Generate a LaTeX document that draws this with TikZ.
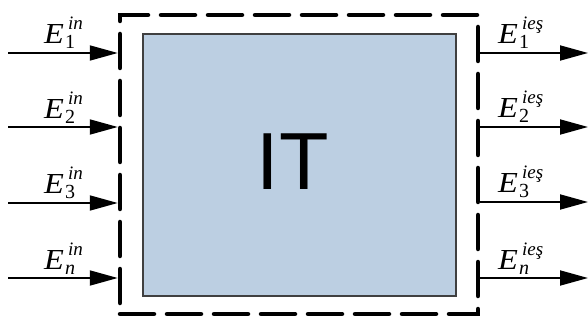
\documentclass[tikz,border=0pt]{standalone}
\usepackage{fontspec}
\setmainfont{Liberation Serif}
\newfontfamily\itfont{Liberation Sans}
\usetikzlibrary{arrows.meta}
\definecolor{boxfill}{HTML}{BCCFE2}
\definecolor{boxline}{HTML}{404040}
\newcommand\elab[2]{\scalebox{1.12}[1]{\fontsize{29}{29}\selectfont\textit{E}}\kern1pt\rlap{\kern3pt\raisebox{14pt}{\fontsize{19}{19}\selectfont\itshape #2}}\raisebox{-5pt}{\fontsize{20}{20}\selectfont #1}}
\tikzset{
  sysbox/.style={draw=boxline, line width=1.3pt, fill=boxfill, minimum width=313pt, minimum height=262pt, inner sep=0pt},
  boundary/.style={draw=black, line width=4.5pt, dash pattern=on 34pt off 13pt, dash phase=0pt, line cap=round, minimum width=358pt, minimum height=299pt, inner sep=0pt},
  flow/.style={line width=1.8pt, -{Triangle[length=28pt,width=15pt]}},
  lbl/.style={inner sep=0pt, anchor=base west},
  bigtxt/.style={inner sep=0pt, font=\itfont\fontsize{81}{81}\selectfont}
}
\begin{document}
\begin{tikzpicture}[x=1pt,y=-1pt]
\useasboundingbox (0,0) rectangle (588,320);
\node[boundary] (bd) at (299,164.5) {};
\node[sysbox] (it) at (299.5,165) {};
\node[bigtxt, anchor=base] (itlbl) at (292.5,190) {IT};
% flow end coordinates
\coordinate (i1) at (8,53);
\coordinate (i2) at (8,127);
\coordinate (i3) at (8,203);
\coordinate (i4) at (8,278);
\coordinate (o1) at (588,53);
\coordinate (o2) at (588,127);
\coordinate (o3) at (588,202);
\coordinate (o4) at (588,278);
\foreach \k in {1,2,3,4}{
  \draw[flow] (i\k) -- (i\k -| bd.west);
  \draw[flow] (o\k -| bd.east) -- (o\k);
}
\node[lbl] (l1) at (44,44) {\elab{1}{in}};
\node[lbl] (l2) at (44,119) {\elab{2}{in}};
\node[lbl] (l3) at (44,194) {\elab{3}{in}};
\node[lbl] (l4) at (44,269) {\elab{\itshape n}{in}};
\node[lbl] (r1) at (498,44) {\elab{1}{ieş}};
\node[lbl] (r2) at (498,118) {\elab{2}{ieş}};
\node[lbl] (r3) at (498,193) {\elab{3}{ieş}};
\node[lbl] (r4) at (498,269) {\elab{\itshape n}{ieş}};
\end{tikzpicture}
\end{document}
